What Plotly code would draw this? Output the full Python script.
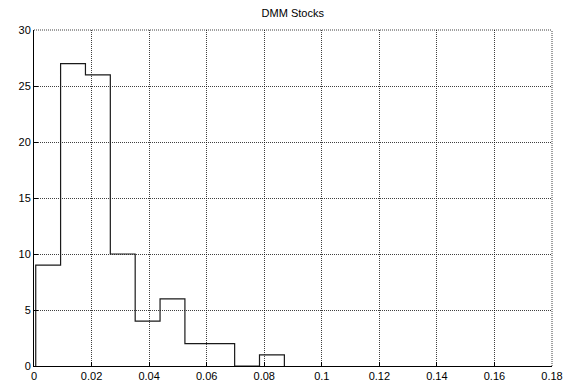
import plotly.graph_objects as go

# Histogram data
bin_edges = [0.0006, 0.00924, 0.01788, 0.02652, 0.03516, 0.0438,
             0.05244, 0.06108, 0.06972, 0.07836, 0.087]
counts = [9, 27, 26, 10, 4, 6, 2, 2, 0, 1]
x_ticks = [0, 0.02, 0.04, 0.06, 0.08, 0.1, 0.12, 0.14, 0.16, 0.18]
x_tick_labels = ["0", "0.02", "0.04", "0.06", "0.08", "0.1", "0.12", "0.14", "0.16", "0.18"]
y_ticks = [0, 5, 10, 15, 20, 25, 30]
title_text = "DMM Stocks"

xs = [bin_edges[0]] + bin_edges
ys = [0] + counts + [0]

fig = go.Figure()
fig.add_trace(go.Scatter(
    x=xs, y=ys, mode="lines", line_shape="hv",
    line=dict(color="#1a1a1a", width=1.2),
    showlegend=False, hoverinfo="skip",
))

font = dict(family="Liberation Sans, Arial, Helvetica, sans-serif", size=11, color="#000")
grid_col = "rgba(0,0,0,0.75)"
grid_dash = "1px,1px"

fig.update_layout(
    width=574, height=385,
    margin=dict(l=34, r=22, t=30, b=19, autoexpand=False),
    paper_bgcolor="white", plot_bgcolor="white",
    font=font,
    title=dict(text=title_text, x=0.51, xanchor="center", y=1 - 13 / 385, yanchor="middle",
               font=dict(size=11, family=font["family"], color="#000")),
    xaxis=dict(
        range=[0, 0.18], tickvals=x_ticks, ticktext=x_tick_labels,
        showgrid=True, gridcolor=grid_col, gridwidth=1, griddash=grid_dash,
        showline=True, linecolor="black", linewidth=1,
        ticks="inside", ticklen=4, tickcolor="black",
        zeroline=False, fixedrange=True, automargin=False,
    ),
    yaxis=dict(
        range=[0, 30], tickvals=y_ticks,
        showgrid=True, gridcolor=grid_col, gridwidth=1, griddash=grid_dash,
        showline=True, linecolor="black", linewidth=1,
        ticks="inside", ticklen=4, tickcolor="black",
        zeroline=False, fixedrange=True, automargin=False,
    ),
)

# dotted top and right frame edges (grid lines at the range ends)
fig.add_shape(type="line", xref="paper", yref="paper", x0=0, x1=1, y0=1, y1=1,
              line=dict(color=grid_col, width=1, dash=grid_dash), layer="below")
fig.add_shape(type="line", xref="paper", yref="paper", x0=1, x1=1, y0=0, y1=1,
              line=dict(color=grid_col, width=1, dash=grid_dash), layer="below")

fig.write_html("out.html")
